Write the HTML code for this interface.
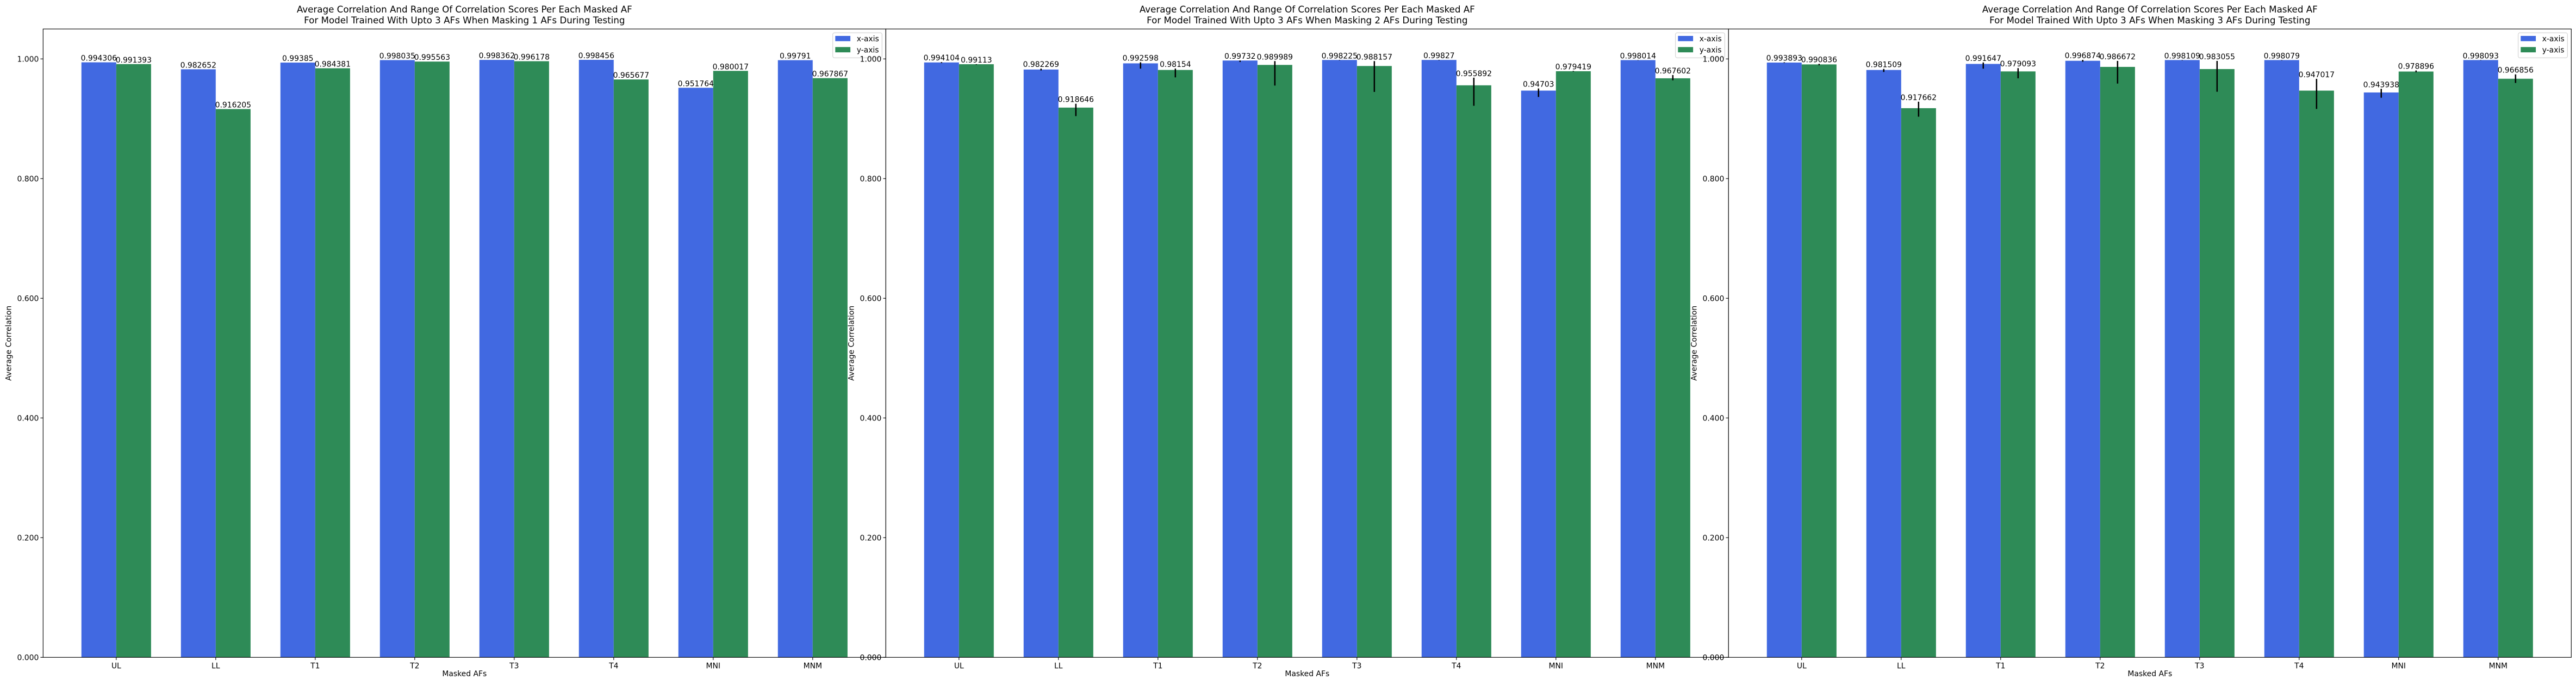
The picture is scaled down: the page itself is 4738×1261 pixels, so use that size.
<!DOCTYPE html>
<html><head><meta charset="utf-8"><style>
html,body{margin:0;padding:0;background:#fff;}
svg{display:block;font-family:"DejaVu Sans","Liberation Sans",sans-serif;}
</style></head><body>
<svg id="chart" width="4738" height="1261" viewBox="0 0 4738 1261" xmlns="http://www.w3.org/2000/svg"></svg>
<script>
const categories = ["UL","LL","T1","T2","T3","T4","MNI","MNM"];
const titles2 = ["For Model Trained With Upto 3 AFs When Masking 1 AFs During Testing","For Model Trained With Upto 3 AFs When Masking 2 AFs During Testing","For Model Trained With Upto 3 AFs When Masking 3 AFs During Testing"];
const yTicks = [0,0.2,0.4,0.6,0.8,1.0];
const xVals1 = [0.994306,0.982652,0.99385,0.998035,0.998362,0.998456,0.951764,0.99791];
const yVals1 = [0.991393,0.916205,0.984381,0.995563,0.996178,0.965677,0.980017,0.967867];
const xLabels1 = ["0.994306","0.982652","0.99385","0.998035","0.998362","0.998456","0.951764","0.99791"];
const yLabels1 = ["0.991393","0.916205","0.984381","0.995563","0.996178","0.965677","0.980017","0.967867"];
const xVals2 = [0.994104,0.982269,0.992598,0.99732,0.998225,0.99827,0.94703,0.998014];
const yVals2 = [0.99113,0.918646,0.98154,0.989989,0.988157,0.955892,0.979419,0.967602];
const xLabels2 = ["0.994104","0.982269","0.992598","0.99732","0.998225","0.99827","0.94703","0.998014"];
const yLabels2 = ["0.99113","0.918646","0.98154","0.989989","0.988157","0.955892","0.979419","0.967602"];
const xErrUp2 = [0.0005,0.0015,0.0018,0,0,0,0.0036,0];
const xErrDn2 = [0.001,0.0015,0.0088,0.0024,0.0006,0.0006,0.0106,0.0005];
const yErrUp2 = [0,0.0064,0.0024,0.0064,0.0082,0.0127,0.0005,0.0055];
const yErrDn2 = [0.001,0.0142,0.0124,0.0345,0.0433,0.0342,0.0005,0.0033];
const xVals3 = [0.993893,0.981509,0.991647,0.996874,0.998109,0.998079,0.943938,0.998093];
const yVals3 = [0.990836,0.917662,0.979093,0.986672,0.983055,0.947017,0.978896,0.966856];
const xLabels3 = ["0.993893","0.981509","0.991647","0.996874","0.998109","0.998079","0.943938","0.998093"];
const yLabels3 = ["0.990836","0.917662","0.979093","0.986672","0.983055","0.947017","0.978896","0.966856"];
const xErrUp3 = [0.0005,0.0018,0.0024,0.0015,0,0,0.0061,0];
const xErrDn3 = [0.0005,0.0033,0.0079,0.0015,0.0006,0.0006,0.0088,0.0005];
const yErrUp3 = [0.0009,0.0109,0.0055,0.01,0.0136,0.0197,0.0018,0.0073];
const yErrDn3 = [0.0015,0.0142,0.0115,0.0279,0.0379,0.0306,0.0012,0.007];
const zeros = [0,0,0,0,0,0,0,0];

const NS="http://www.w3.org/2000/svg";
const svg=document.getElementById('chart');
function mk(tag,attrs,parent){const e=document.createElementNS(NS,tag);for(const k in attrs)e.setAttribute(k,attrs[k]);(parent||svg).appendChild(e);return e;}
const panels=[
 {left:79.3,xv:xVals1,yv:yVals1,xl:xLabels1,yl:yLabels1,xu:zeros,xd:zeros,yu:zeros,yd:zeros,err:false},
 {left:1629.3,xv:xVals2,yv:yVals2,xl:xLabels2,yl:yLabels2,xu:xErrUp2,xd:xErrDn2,yu:yErrUp2,yd:yErrDn2,err:true},
 {left:3179.3,xv:xVals3,yv:yVals3,xl:xLabels3,yl:yLabels3,xu:xErrUp3,xd:xErrDn3,yu:yErrUp3,yd:yErrDn3,err:true}
];
const W=1550, topY=53.3, bottomY=1208.3, ymax=1.05;
const xmin=-0.735, xmax=7.735, bw=0.35;
panels.forEach((p,pi)=>{
 const g=mk('g',{});
 
 
 const X=v=>p.left+(v-xmin)/(xmax-xmin)*W;
 const Y=v=>bottomY-(v/ymax)*(bottomY-topY);
 const bg=mk('rect',{x:p.left,y:topY,width:W,height:bottomY-topY,fill:'#fff'},g);
 
 
 categories.forEach((c,i)=>{
  [[p.xv,'#4169e1',-1,p.xl,p.xu,p.xd,'x'],[p.yv,'#2e8b57',0,p.yl,p.yu,p.yd,'y']].forEach(s=>{
   const v=s[0][i];const x0=X(i+s[2]*bw);const x1=X(i+(s[2]+1)*bw);
   const r=mk('rect',{x:x0,y:Y(v),width:x1-x0,height:bottomY-Y(v),fill:s[1]},g);
   
   
   const cx=(x0+x1)/2;
   if(p.err){
    const e=mk('line',{x1:cx,x2:cx,y1:Y(v+s[4][i]),y2:Y(v-s[5][i]),stroke:'#000','stroke-width':2.5},g);
    
    
   }
   const t=mk('text',{x:cx,y:Y(v+s[4][i])-3,'text-anchor':'middle','font-size':13.9,fill:'#000'},g);
   t.textContent=s[3][i];
   
   
  });
  const tx=X(i);
  mk('line',{x1:tx,x2:tx,y1:bottomY,y2:bottomY+4.9,stroke:'#000','stroke-width':1.1},g);
  const tl=mk('text',{x:tx,y:bottomY+20,'text-anchor':'middle','font-size':13.9,fill:'#000'},g);
  tl.textContent=c;
  
  
 });
 yTicks.forEach(v=>{
  const ty=Y(v);
  mk('line',{x1:p.left-4.9,x2:p.left,y1:ty,y2:ty,stroke:'#000','stroke-width':1.1},g);
  const t=mk('text',{x:p.left-8,y:ty+5,'text-anchor':'end','font-size':13.9,fill:'#000'},g);
  t.textContent=v.toFixed(3);
  
  
 });
 const fr=mk('rect',{x:p.left,y:topY,width:W,height:bottomY-topY,fill:'none',stroke:'#000','stroke-width':1.1},g);
 
 
 const cxm=p.left+W/2;
 const t1=mk('text',{x:cxm,y:23,'text-anchor':'middle','font-size':16.7,fill:'#000'},g);
 t1.textContent='Average Correlation And Range Of Correlation Scores Per Each Masked AF';
 
 
 const t2=mk('text',{x:cxm,y:43,'text-anchor':'middle','font-size':16.7,fill:'#000'},g);
 t2.textContent=titles2[pi];
 
 
 const xl=mk('text',{x:cxm,y:1243,'text-anchor':'middle','font-size':13.9,fill:'#000'},g);
 xl.textContent='Masked AFs';
 
 
 const yl=mk('text',{x:0,y:0,'text-anchor':'middle','font-size':13.9,fill:'#000',transform:'translate('+(p.left-59)+','+((topY+bottomY)/2)+') rotate(-90)'},g);
 yl.textContent='Average Correlation';
 
 
 const lx=p.left+W-97.6;
 const lg=mk('g',{},g);
 
 
 mk('rect',{x:lx,y:60.3,width:90.6,height:46,rx:3,fill:'#fff','fill-opacity':0.8,stroke:'#ccc','stroke-width':1},lg);
 mk('rect',{x:lx+4.6,y:66,width:27.8,height:9.7,fill:'#4169e1'},lg);
 mk('rect',{x:lx+4.6,y:86.5,width:27.8,height:9.7,fill:'#2e8b57'},lg);
 const la=mk('text',{x:lx+44,y:76,'font-size':13.9,fill:'#000'},lg);
 la.textContent='x-axis';
 
 
 const lb=mk('text',{x:lx+44,y:96.5,'font-size':13.9,fill:'#000'},lg);
 lb.textContent='y-axis';
 
 
});
</script>
</body></html>
